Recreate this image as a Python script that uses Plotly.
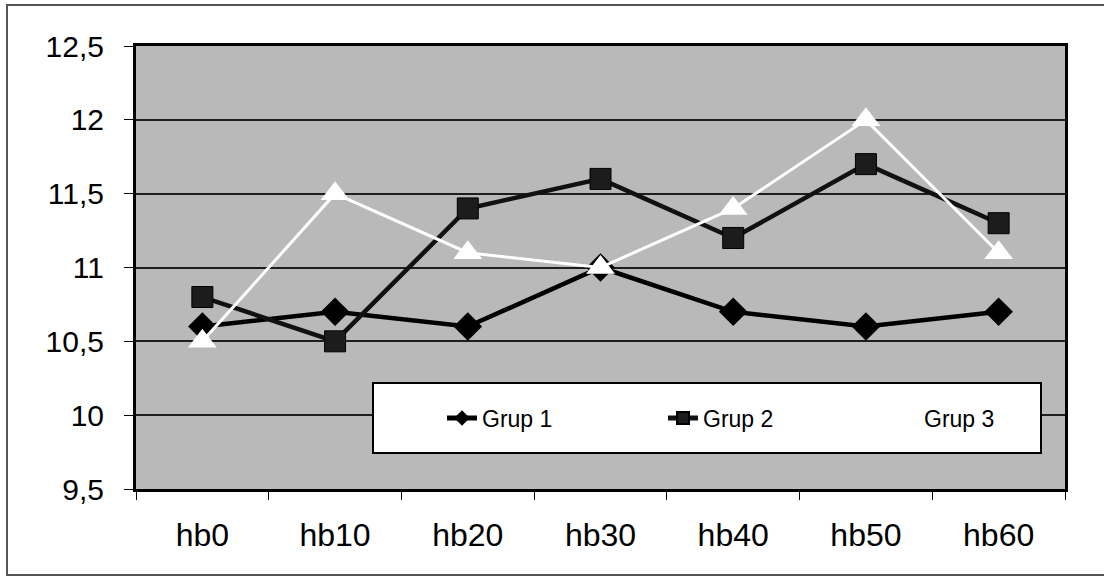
import plotly.graph_objects as go

categories = ["hb0", "hb10", "hb20", "hb30", "hb40", "hb50", "hb60"]
grup1 = [10.6, 10.7, 10.6, 11.0, 10.7, 10.6, 10.7]
grup2 = [10.8, 10.5, 11.4, 11.6, 11.2, 11.7, 11.3]
grup3 = [10.5, 11.5, 11.1, 11.0, 11.4, 12.0, 11.1]
series_names = ["Grup 1", "Grup 2", "Grup 3"]

W, H = 1104, 577
L, R, T, B = 136, 39, 46, 88
pw, ph = W - L - R, H - T - B

def px_x(x):
    return (x - L) / pw

def px_y(y):
    return (H - B - y) / ph

fig = go.Figure()
fig.add_trace(go.Scatter(
    x=categories, y=grup1, name=series_names[0], mode="lines+markers",
    line=dict(color="black", width=4.5),
    marker=dict(symbol="diamond", size=22, color="black"),
))
fig.add_trace(go.Scatter(
    x=categories, y=grup2, name=series_names[1], mode="lines+markers",
    line=dict(color="#111111", width=4.5),
    marker=dict(symbol="square", size=21, color="#1c1c1c", line=dict(color="black", width=1)),
))
fig.add_trace(go.Scatter(
    x=categories, y=grup3, name=series_names[2], mode="lines+markers",
    line=dict(color="white", width=3),
    marker=dict(symbol="triangle-up", size=25, color="white"),
))

# outer frame
fig.add_shape(type="rect", xref="paper", yref="paper",
              x0=px_x(7), x1=px_x(1112), y0=px_y(575), y1=px_y(5),
              line=dict(color="#555555", width=2), fillcolor="rgba(0,0,0,0)", layer="below")
# legend box
fig.add_shape(type="rect", xref="paper", yref="paper",
              x0=px_x(373), x1=px_x(1041), y0=px_y(453), y1=px_y(383),
              line=dict(color="black", width=2), fillcolor="white", layer="above")

fig.update_layout(
    width=W, height=H,
    margin=dict(l=L, r=R, t=T, b=B, autoexpand=False),
    paper_bgcolor="white",
    plot_bgcolor="#b9b9b9",
    separators=", ",
    font=dict(family="Liberation Sans, Arial, sans-serif", color="black"),
    showlegend=True,
    legend=dict(
        orientation="h",
        x=px_x(442), xanchor="left",
        y=px_y(418), yanchor="middle",
        bgcolor="rgba(0,0,0,0)",
        borderwidth=0,
        font=dict(family="Liberation Sans, Arial", size=23, color="black"),
        entrywidth=176, entrywidthmode="pixels",
        itemsizing="constant",
    ),
)
fig.update_xaxes(
    type="category",
    range=[-0.5, 6.5],
    tickson="boundaries",
    ticks="outside", ticklen=8, tickwidth=1, tickcolor="black",
    showline=True, linecolor="black", linewidth=3, mirror=True,
    showgrid=False, zeroline=False,
    tickfont=dict(size=32, family="Liberation Sans, Arial"),
    ticklabelstandoff=16,
)
fig.update_yaxes(
    range=[9.5, 12.5], dtick=0.5, tick0=9.5,
    ticks="outside", ticklen=9, tickwidth=1, tickcolor="black",
    showline=True, linecolor="black", linewidth=3, mirror=True,
    showgrid=True, gridcolor="#1e1e1e", gridwidth=1.8,
    zeroline=False,
    tickfont=dict(size=30, family="Liberation Sans, Arial"),
    ticklabelstandoff=14,
)

fig.write_html("out.html")
